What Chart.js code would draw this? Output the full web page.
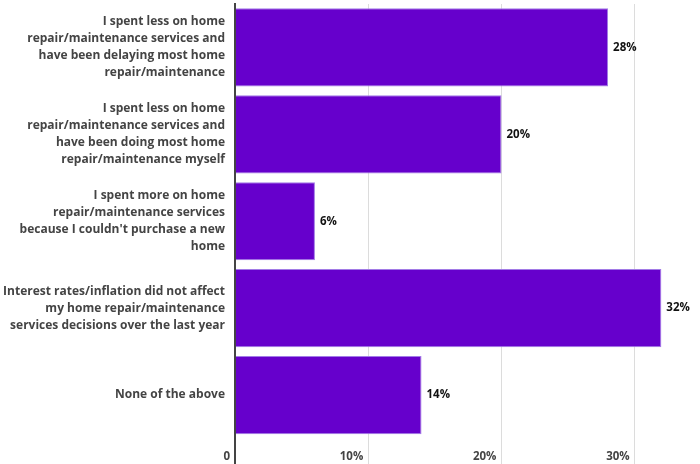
<!DOCTYPE html>
<html>
<head>
<meta charset="utf-8">
<script src="https://cdn.jsdelivr.net/npm/chart.js@4"></script>
<style>
html,body{margin:0;padding:0;background:#fff;}
#wrap{width:700px;height:464px;position:relative;}
</style>
</head>
<body>
<div id="wrap"><canvas id="c"></canvas></div>
<script>
const categories = [
  ["I spent less on home", "repair/maintenance services and", "have been delaying most home", "repair/maintenance"],
  ["I spent less on home", "repair/maintenance services and", "have been doing most home", "repair/maintenance myself"],
  ["I spent more on home", "repair/maintenance services", "because I couldn't purchase a new", "home"],
  ["Interest rates/inflation did not affect", "my home repair/maintenance", "services decisions over the last year"],
  ["None of the above"]
];
const values = [28, 20, 6, 32, 14];
const tickValues = [0, 10, 20, 30];

const FONT = "'Open Sans', 'DejaVu Sans', sans-serif";

const valueLabels = {
  id: 'valueLabels',
  afterDatasetsDraw(chart) {
    const ctx = chart.ctx;
    const meta = chart.getDatasetMeta(0);
    ctx.save();
    ctx.font = "bold 11.5px " + FONT;
    ctx.fillStyle = '#111';
    ctx.textAlign = 'left';
    ctx.textBaseline = 'middle';
    meta.data.forEach((bar, i) => {
      ctx.fillText(values[i] + '%', bar.x + 5, bar.y);
    });
    ctx.restore();
  }
};

new Chart(document.getElementById('c'), {
  type: 'bar',
  data: {
    labels: categories,
    datasets: [{
      data: values,
      backgroundColor: '#6600CC',
      borderColor: '#a27be6',
      borderWidth: {top: 1, bottom: 1, right: 1, left: 0},
      borderSkipped: false,
      categoryPercentage: 0.9,
      barPercentage: 1
    }]
  },
  options: {
    indexAxis: 'y',
    responsive: true,
    maintainAspectRatio: false,
    animation: false,
    layout: { padding: { top: 4, right: 0, left: 0, bottom: 0 } },
    plugins: { legend: { display: false }, tooltip: { enabled: false } },
    scales: {
      x: {
        min: 0,
        max: 34.9,
        afterBuildTicks(scale) { scale.ticks = tickValues.map(v => ({ value: v })); },
        afterFit(scale) { scale.height = 25.5; },
        grid: {
          color: (c) => c.tick && c.tick.value === 0 ? '#444' : '#dcdcdc',
          lineWidth: (c) => c.tick && c.tick.value === 0 ? 2 : 1,
          tickLength: 26,
          drawTicks: true
        },
        border: { display: false },
        ticks: {
          autoSkip: false,
          align: 'end',
          labelOffset: -5,
          padding: -15,
          color: '#444',
          font: { family: FONT, size: 11.5, weight: 'bold' },
          callback: (v) => v === 0 ? '0' : v + '%'
        }
      },
      y: {
        afterFit(scale) {
          scale.width = 235;
          scale.paddingTop = 0;
          scale.paddingBottom = 0;
        },
        grid: { display: false },
        border: { display: true, color: '#444', width: 2 },
        ticks: {
          padding: 2,
          color: '#444',
          font: { family: FONT, size: 12, weight: 'bold', lineHeight: 1.42 }
        }
      }
    }
  },
  plugins: [valueLabels]
});
</script>
</body>
</html>
